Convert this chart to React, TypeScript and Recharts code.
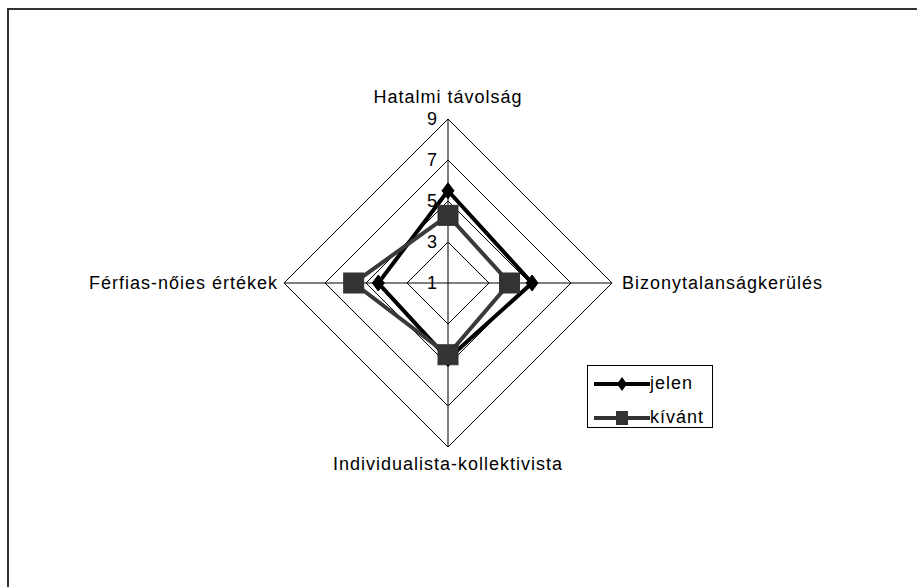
import { RadarChart, Radar, PolarGrid, PolarAngleAxis, PolarRadiusAxis, Legend } from 'recharts'

const categories = ['Hatalmi távolság', 'Bizonytalanságkerülés', 'Individualista-kollektivista', 'Férfias-nőies értékek']
const jelen = [5.5, 5.1, 4.7, 4.4]
const kivant = [4.3, 4.0, 4.5, 5.6]
const radiusTicks = [1, 3, 5, 7, 9]

const data = categories.map((c, i) => ({ name: c, jelen: jelen[i], kivant: kivant[i] }))

const FONT = 'Arial, "Liberation Sans", sans-serif'

const Diamond = (props: any) => {
  const { cx, cy } = props
  if (cx == null || cy == null) return null
  return <polygon points={`${cx},${cy - 8} ${cx + 6},${cy} ${cx},${cy + 8} ${cx - 6},${cy}`} fill="#000" stroke="#000" />
}

const Square = (props: any) => {
  const { cx, cy } = props
  if (cx == null || cy == null) return null
  return <rect x={cx - 10} y={cy - 10} width={20} height={20} fill="#333" stroke="#333" />
}

const angleTick = (props: any) => {
  const { x, y, payload, index } = props
  let dx = 0, dy = 0, anchor = 'middle'
  if (index === 0) dy = -14
  else if (index === 1) { dx = 2; anchor = 'start' }
  else if (index === 2) dy = 9
  else { dx = 2; anchor = 'end' }
  return (
    <text x={x + dx} y={y + dy} textAnchor={anchor} dominantBaseline="central"
      fontFamily={FONT} fontSize={18} letterSpacing={1} fill="#000">
      {payload.value}
    </text>
  )
}

const radiusTick = (props: any) => {
  const { x, y, payload } = props
  return (
    <text x={x - 11} y={y} textAnchor="end" dominantBaseline="central"
      fontFamily={FONT} fontSize={18} fill="#000">
      {payload.value}
    </text>
  )
}

const renderLegend = () => (
  <div style={{ width: 124, height: 61, border: '1px solid #000', background: '#fff', fontFamily: FONT, fontSize: 18, letterSpacing: 1, position: 'relative' }}>
    <svg width={60} height={61} style={{ position: 'absolute', left: 4, top: 0 }}>
      <line x1={2} y1={18} x2={58} y2={18} stroke="#000" strokeWidth={4} />
      <polygon points="30,11 35,18 30,25 25,18" fill="#000" />
      <line x1={2} y1={52} x2={58} y2={52} stroke="#333" strokeWidth={4} />
      <rect x={24} y={45} width={12} height={14} fill="#333" />
    </svg>
    <span style={{ position: 'absolute', left: 62, top: 7 }}>jelen</span>
    <span style={{ position: 'absolute', left: 62, top: 41 }}>kívánt</span>
  </div>
)

export default function App() {
  return (
    <div style={{ position: 'fixed', left: 0, top: 0, width: 917, height: 587, background: '#fff', overflow: 'hidden' }}>
      <div style={{ position: 'absolute', left: 7, top: 8, width: 920, height: 600, borderTop: '2px solid #333', borderLeft: '2px solid #333' }} />
      <RadarChart width={917} height={587} data={data} cx={448} cy={283} outerRadius={164}
        style={{ position: 'absolute', left: 0, top: 0 }}>
        <PolarGrid gridType="polygon" stroke="#000" strokeOpacity={1} />
        <PolarAngleAxis dataKey="name" tick={angleTick} tickLine={false} axisLine={false} />
        <PolarRadiusAxis angle={90} domain={[1, 9]} ticks={radiusTicks} tickCount={5} tick={radiusTick}
          axisLine={false} tickLine={false} />
        <Radar name="jelen" dataKey="jelen" stroke="#000" strokeWidth={4} fill="none" fillOpacity={0}
          dot={Diamond} isAnimationActive={false} />
        <Radar name="kívánt" dataKey="kivant" stroke="#3a3a3a" strokeWidth={4} fill="none" fillOpacity={0}
          dot={Square} isAnimationActive={false} />
        <Legend content={renderLegend} wrapperStyle={{ left: 587, top: 365, width: 126, height: 63, bottom: 'auto', right: 'auto' }} />
      </RadarChart>
    </div>
  )
}
